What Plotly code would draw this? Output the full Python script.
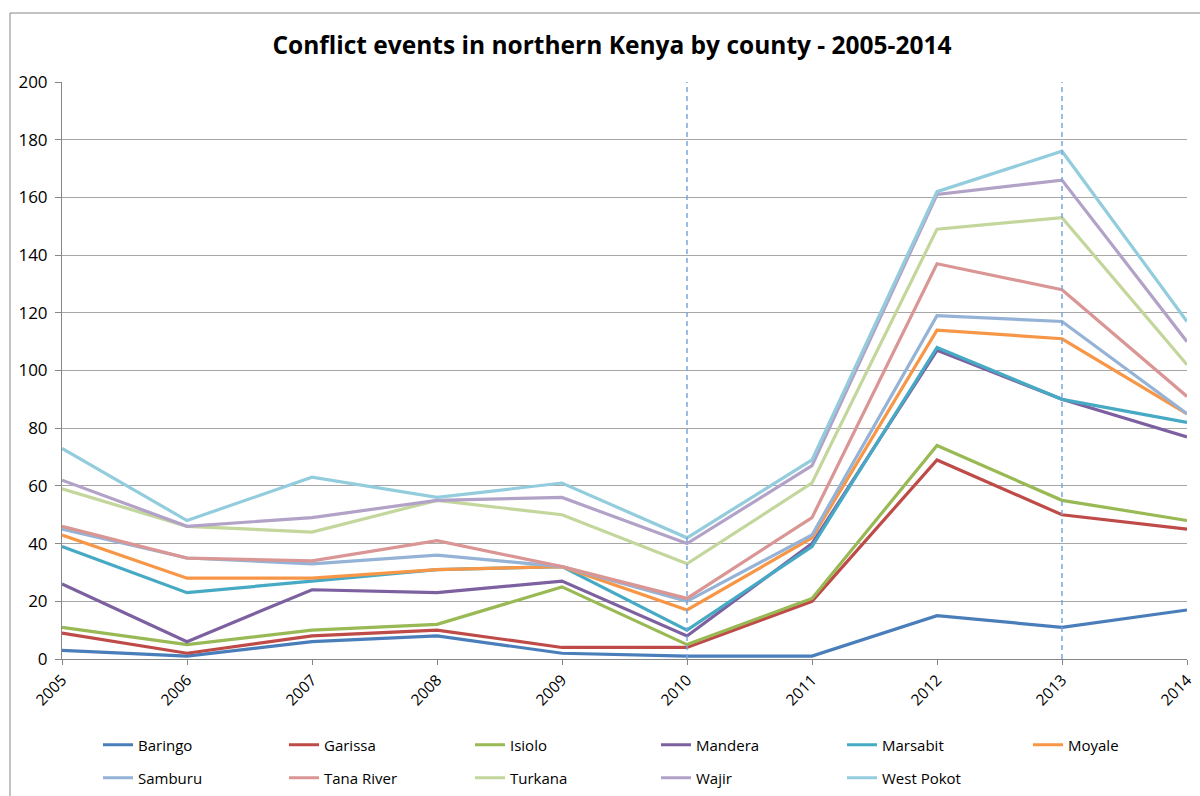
import plotly.graph_objects as go

years = [2005, 2006, 2007, 2008, 2009, 2010, 2011, 2012, 2013, 2014]
counties = ["Baringo", "Garissa", "Isiolo", "Mandera", "Marsabit", "Moyale",
            "Samburu", "Tana River", "Turkana", "Wajir", "West Pokot"]

baringo    = [3, 1, 6, 8, 2, 1, 1, 15, 11, 17]
garissa    = [9, 2, 8, 10, 4, 4, 20, 69, 50, 45]
isiolo     = [11, 5, 10, 12, 25, 5, 21, 74, 55, 48]
mandera    = [26, 6, 24, 23, 27, 8, 40, 107, 90, 77]
marsabit   = [39, 23, 27, 31, 32, 10, 39, 108, 90, 82]
moyale     = [43, 28, 28, 31, 32, 17, 42, 114, 111, 85]
samburu    = [45, 35, 33, 36, 32, 20, 43, 119, 117, 85]
tana_river = [46, 35, 34, 41, 32, 21, 49, 137, 128, 91]
turkana    = [59, 46, 44, 55, 50, 33, 61, 149, 153, 102]
wajir      = [62, 46, 49, 55, 56, 40, 67, 161, 166, 110]
west_pokot = [73, 48, 63, 56, 61, 42, 69, 162, 176, 117]

series = [baringo, garissa, isiolo, mandera, marsabit, moyale,
          samburu, tana_river, turkana, wajir, west_pokot]
colors = ["#4A7EBB", "#BE4B48", "#98B954", "#7D60A0", "#46AAC5", "#F79646",
          "#95B3D7", "#D99694", "#C3D69B", "#B3A2C7", "#93CDDD"]
marker_years = [2010, 2013]

fig = go.Figure()
for i, (name, vals, col) in enumerate(zip(counties, series, colors)):
    fig.add_trace(go.Scatter(x=years, y=vals, mode="lines", name=name,
                             legend="legend" if i < 6 else "legend2",
                             line=dict(color=col, width=3.2)))

for yr in marker_years:
    fig.add_shape(type="line", xref="x", yref="paper", x0=yr, x1=yr, y0=0, y1=1,
                  line=dict(color="#7BA7DB", width=1.5, dash="5px,4px"))

# outer chart frame
fig.add_shape(type="rect", xref="paper", yref="paper",
              x0=(10 - 62) / 1125, x1=(1215 - 62) / 1125,
              y0=(659 - 810) / 577, y1=(659 - 13) / 577,
              line=dict(color="#868686", width=1), fillcolor="rgba(0,0,0,0)", layer="below")

leg_common = dict(orientation="h", x=0.032, xanchor="left", yanchor="middle",
                  entrywidth=141, entrywidthmode="pixels",
                  font=dict(family="Open Sans", size=15, color="#000000"),
                  bgcolor="rgba(0,0,0,0)", traceorder="normal")

fig.update_layout(
    width=1200, height=796,
    margin=dict(l=62, r=13, t=82, b=137, autoexpand=False),
    paper_bgcolor="white", plot_bgcolor="white",
    font=dict(family="Open Sans", size=15, color="#000000"),
    title=dict(text="<b>Conflict events in northern Kenya by county - 2005-2014</b>",
               x=0.51, xanchor="center", y=1 - 45 / 796, yanchor="middle",
               font=dict(family="Open Sans", size=24.5, color="#000000")),
    showlegend=True,
    legend=dict(y=(659 - 745) / 577, **leg_common),
    legend2=dict(y=(659 - 778) / 577, **leg_common),
    xaxis=dict(range=[2005, 2014], tickmode="array", tickvals=years,
               ticktext=[str(y) for y in years], tickangle=-45,
               showgrid=False, showline=True, linecolor="#868686", linewidth=1,
               ticks="outside", ticklen=5, tickcolor="#868686",
               tickfont=dict(size=15.5), zeroline=False, automargin=False),
    yaxis=dict(range=[0, 200], dtick=20, showgrid=True, gridcolor="#A6A6A6", gridwidth=1,
               showline=True, linecolor="#868686", linewidth=1,
               ticks="outside", ticklen=6, tickcolor="#868686", ticklabelstandoff=4,
               tickfont=dict(size=17), zeroline=False, automargin=False),
)

fig.write_html("out.html")
